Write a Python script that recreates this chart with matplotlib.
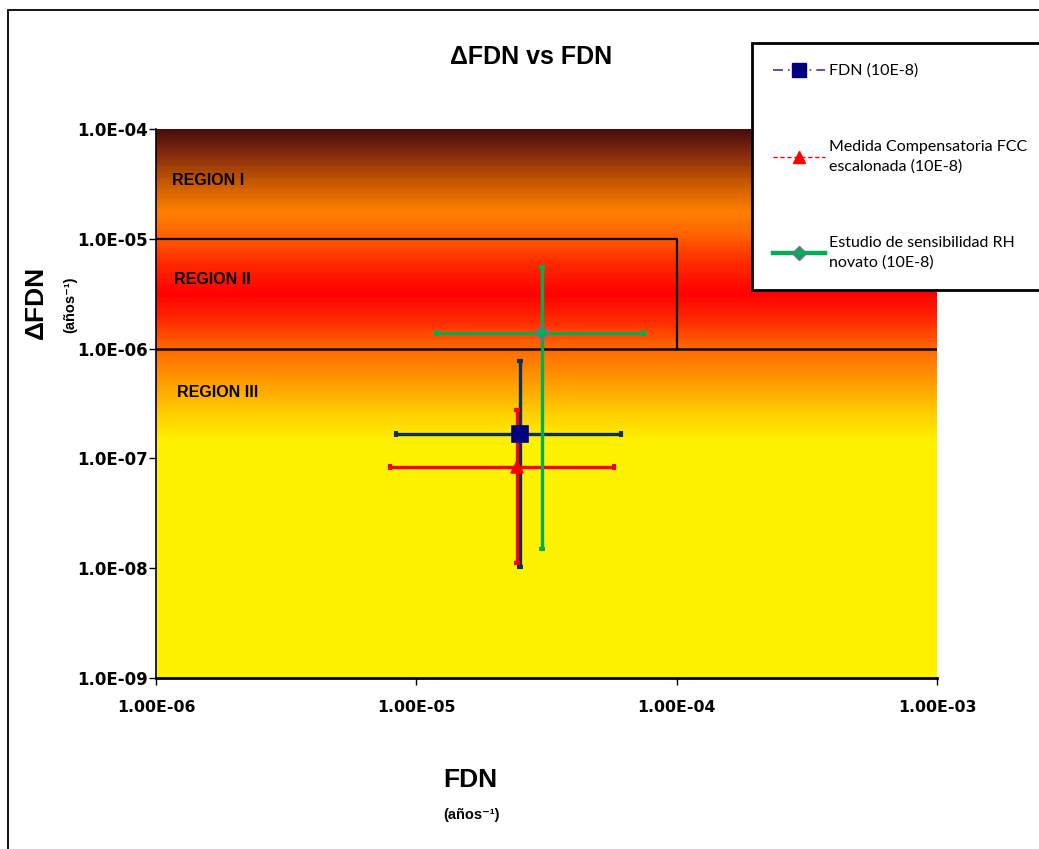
import numpy as np
import matplotlib
matplotlib.use("Agg")
import matplotlib.pyplot as plt
from matplotlib.colors import LinearSegmentedColormap
from matplotlib.lines import Line2D
from matplotlib.patches import Rectangle
from matplotlib.ticker import FixedLocator, FuncFormatter, NullLocator

# series: centre, x error range, y error range
series_names = ["FDN (10E-8)",
                "Medida Compensatoria FCC\nescalonada (10E-8)",
                "Estudio de sensibilidad RH\nnovato (10E-8)"]
fdn_x = [2.50e-5, 2.43e-5, 3.05e-5]
dfdn_y = [1.67e-7, 8.4e-8, 1.39e-6]
x_low = [8.36e-6, 7.9e-6, 1.19e-5]
x_high = [6.1e-5, 5.77e-5, 7.48e-5]
y_low = [1.03e-8, 1.12e-8, 1.51e-8]
y_high = [7.7e-7, 2.78e-7, 5.53e-6]

x_ticks = [1e-6, 1e-5, 1e-4, 1e-3]
y_ticks = [1e-9, 1e-8, 1e-7, 1e-6, 1e-5, 1e-4]

region_labels = ["REGION I", "REGION II", "REGION III"]
region_label_x = [1.15e-6, 1.17e-6, 1.2e-6]
region_label_y = [3.4e-5, 4.3e-6, 4.0e-7]

W, H = 1039, 849
fig = plt.figure(figsize=(W / 100, H / 100), dpi=100)
ax = fig.add_axes([156 / W, (H - 678) / H, (937 - 156) / W, (678 - 129) / H])
ax.set_xscale("log")
ax.set_yscale("log")
ax.set_xlim(1e-6, 1e-3)
ax.set_ylim(1e-9, 1e-4)

# background gradient (log y)
stops = [(-9.0, "#fff200"), (-6.85, "#fff200"), (-6.6, "#ffd000"),
         (-6.3, "#ff9a00"), (-6.0, "#ff6a00"), (-5.75, "#ff2c00"),
         (-5.5, "#ff0000"), (-5.2, "#ff2c00"), (-4.95, "#ff6400"),
         (-4.75, "#ff8000"), (-4.5, "#cc5c00"), (-4.25, "#8c300c"),
         (-4.0, "#4a0c0c")]
cmap = LinearSegmentedColormap.from_list(
    "bg", [((v + 9) / 5, c) for v, c in stops])
ye = np.logspace(-9, -4, 601)
yc = np.log10(np.sqrt(ye[:-1] * ye[1:]))
ax.pcolormesh([1e-6, 1e-3], ye, yc[:, None], cmap=cmap, vmin=-9, vmax=-4,
              shading="flat", zorder=0, rasterized=True)

# region boundaries
ax.plot([1e-6, 1e-3], [1e-6, 1e-6], color="black", lw=1.8, zorder=2)
ax.plot([1e-6, 1e-4, 1e-4], [1e-5, 1e-5, 1e-6], color="black", lw=1.6, zorder=2)
for lab, lx, ly in zip(region_labels, region_label_x, region_label_y):
    ax.text(lx, ly, lab, fontsize=11.5, fontweight="bold",
            family="Liberation Sans", va="center", ha="left", zorder=3)

colors = ["#0d2f5e", "#ff0000", "#00b050"]
markers = ["s", "^", "D"]
mfc = ["#000080", "#ff0000", "#00b050"]
mec = ["#000080", "#ff0000", "#8064a2"]
msize = [12, 8, 7]
for i in range(3):
    xerr = [[fdn_x[i] - x_low[i]], [x_high[i] - fdn_x[i]]]
    yerr = [[dfdn_y[i] - y_low[i]], [y_high[i] - dfdn_y[i]]]
    ax.errorbar([fdn_x[i]], [dfdn_y[i]], xerr=xerr, yerr=yerr, fmt="none",
                ecolor=colors[i], elinewidth=2.4, capsize=2.5, capthick=3,
                zorder=4 + i)
for i in range(3):
    ax.plot([fdn_x[i]], [dfdn_y[i]], marker=markers[i], ms=msize[i],
            mfc=mfc[i], mec=mec[i], mew=1.2, ls="none", zorder=8)

ax.xaxis.set_major_locator(FixedLocator(x_ticks))
ax.yaxis.set_major_locator(FixedLocator(y_ticks))
ax.xaxis.set_minor_locator(NullLocator())
ax.yaxis.set_minor_locator(NullLocator())
ax.xaxis.set_major_formatter(FuncFormatter(lambda v, p: "%.2E" % v))
ax.yaxis.set_major_formatter(FuncFormatter(lambda v, p: "%.1E" % v))
ax.tick_params(axis="both", direction="out", length=5, width=1, color="black")
ax.tick_params(axis="x", pad=11, labelsize=11.3)
ax.tick_params(axis="y", pad=1, labelsize=12)
for lab in ax.get_xticklabels() + ax.get_yticklabels():
    lab.set_fontweight("bold")
    lab.set_family("DejaVu Sans")
for s in ["top", "right"]:
    ax.spines[s].set_visible(False)
ax.spines["left"].set_linewidth(1.2)
ax.spines["bottom"].set_linewidth(2)
ax.set_facecolor("white")

# titles and labels
lab_font = ["Liberation Sans", "DejaVu Sans"]
fig.text(531 / W, 1 - 57 / H, "\u0394FDN vs FDN", fontsize=18, fontweight="bold",
         family=lab_font, ha="center", va="center")
fig.text(36 / W, 1 - 302 / H, "\u0394FDN", fontsize=19, fontweight="bold",
         family=lab_font, ha="center", va="center", rotation=90)
fig.text(70 / W, 1 - 305 / H, "(años\u207b\u00b9)", fontsize=10.5, fontweight="bold",
         family=lab_font, ha="center", va="center", rotation=90)
fig.text(470 / W, 1 - 780 / H, "FDN", fontsize=19, fontweight="bold",
         family=lab_font, ha="center", va="center")
fig.text(472 / W, 1 - 815 / H, "(años\u207b\u00b9)", fontsize=10.5, fontweight="bold",
         family=lab_font, ha="center", va="center")

# outer chart border
fig.patches.append(Rectangle((8 / W, -0.05), 1.2, 1 - 10 / H + 0.05,
                             transform=fig.transFigure, fill=False,
                             edgecolor="black", lw=1.3))

# legend
handles = [
    Line2D([], [], color="#3a3a9a", ls=(0, (6, 3, 1, 3)), lw=1.2, marker="s",
           ms=10, mfc="#000080", mec="#000080"),
    Line2D([], [], color="#ff0000", ls=(0, (3, 2)), lw=1.0, marker="^",
           ms=9, mfc="#ff0000", mec="#ff0000"),
    Line2D([], [], color="#00b050", ls="-", lw=3.2, marker="D",
           ms=7, mfc="#00b050", mec="#8064a2"),
]
leg = fig.legend(handles, series_names, loc="upper left",
                 bbox_to_anchor=(752 / W, 1 - 43 / H), frameon=True,
                 fancybox=False, edgecolor="black", framealpha=1,
                 prop={"family": "Lato", "size": 11.5}, handlelength=3.3,
                 handletextpad=0.25, labelspacing=3.9, borderpad=1.3,
                 borderaxespad=0)
leg.get_frame().set_linewidth(2)
for t in leg.get_texts():
    t.set_linespacing(1.45)

fig.savefig("out.png", dpi=100, facecolor="white")
